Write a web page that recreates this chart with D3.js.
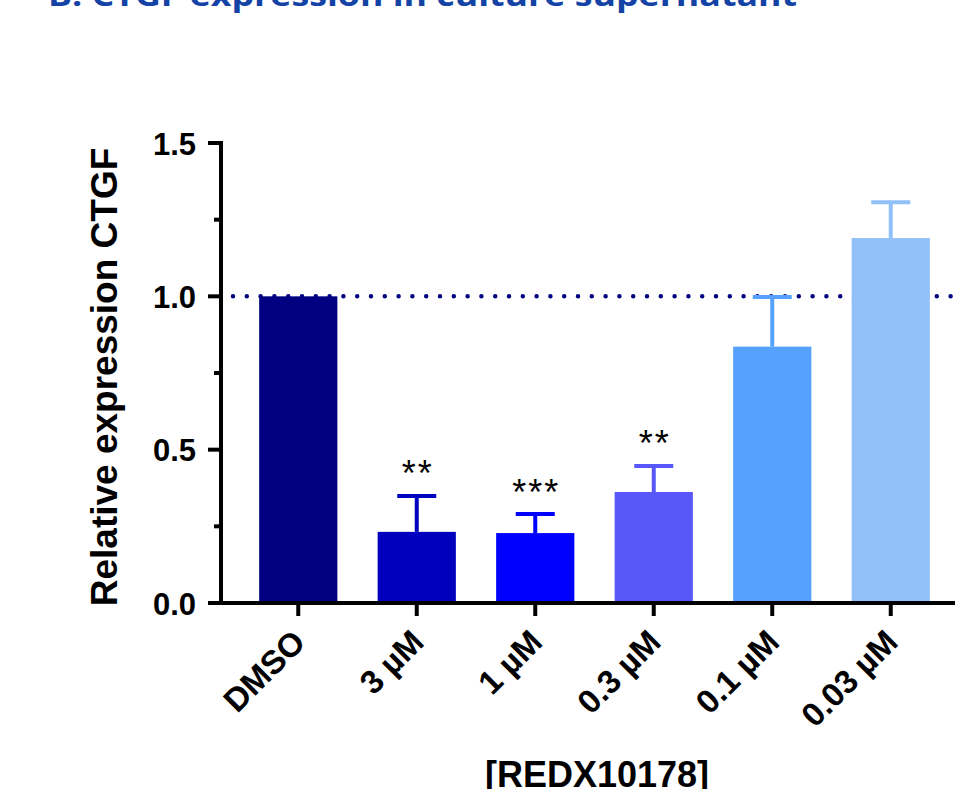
<!DOCTYPE html>
<html>
<head>
<meta charset="utf-8">
<script src="https://cdn.jsdelivr.net/npm/d3@7"></script>
<style>
  html, body { margin: 0; padding: 0; background: #fff; }
  svg { display: block; }
  text { font-family: "Liberation Sans", Arial, sans-serif; }
</style>
</head>
<body>
<svg id="chart" width="955" height="789"></svg>
<script>
// ---- data ----
const categories = ["DMSO", "3 µM", "1 µM", "0.3 µM", "0.1 µM", "0.03 µM"];
const means      = [1.00, 0.232, 0.228, 0.362, 0.836, 1.190];
const errors     = [0.00, 0.117, 0.062, 0.085, 0.162, 0.117];
const stars      = ["", "**", "***", "**", "", ""];
const colors     = ["#000080", "#0000BE", "#0000FF", "#5858F8", "#56A1FD", "#92C0F9"];
const yTicksMajor = [0, 0.5, 1.0, 1.5];
const yTicksMinor = [0.25, 0.75, 1.25];
const refValue = 1.0;
const titleText = "B. CTGF expression in culture supernatant";
const yTitle = "Relative expression CTGF";
const xTitle = "[REDX10178]";

// ---- layout ----
const svg = d3.select("#chart");
const axisX0 = 221, axisY0 = 603;
const y = d3.scaleLinear().domain([0, 1.5]).range([603, 143]);
const x = d3.scaleBand().domain(categories).range([239, 950]).paddingInner(0.34).paddingOuter(0.17);

// title (cut off at top, as in the reference)
svg.append("text")
  .attr("x", 48).attr("y", 6)
  .attr("textLength", 749).attr("lengthAdjust", "spacingAndGlyphs")
  .style("font-family", "'Open Sans', sans-serif")
  .style("font-weight", "bold").style("font-size", "30px")
  .attr("fill", "#1443A6")
  .text(titleText);

// reference dotted line (behind bars)
svg.append("line")
  .attr("x1", 233).attr("x2", 960)
  .attr("y1", y(refValue)).attr("y2", y(refValue))
  .attr("stroke", "#000080").attr("stroke-width", 4.5)
  .attr("stroke-linecap", "round")
  .attr("stroke-dasharray", "0 13.8");

// error bars (upper only)
const eg = svg.append("g");
categories.forEach((c, i) => {
  if (errors[i] <= 0) return;
  const cx = x(c) + x.bandwidth() / 2;
  eg.append("line")
    .attr("x1", cx).attr("x2", cx)
    .attr("y1", y(means[i])).attr("y2", y(means[i] + errors[i]))
    .attr("stroke", colors[i]).attr("stroke-width", 4);
  eg.append("line")
    .attr("x1", cx - 19.5).attr("x2", cx + 19.5)
    .attr("y1", y(means[i] + errors[i])).attr("y2", y(means[i] + errors[i]))
    .attr("stroke", colors[i]).attr("stroke-width", 4);
});

// bars
svg.append("g").selectAll("rect")
  .data(categories)
  .join("rect")
  .attr("x", d => x(d))
  .attr("width", x.bandwidth())
  .attr("y", (d, i) => y(means[i]))
  .attr("height", (d, i) => y(0) - y(means[i]))
  .attr("fill", (d, i) => colors[i]);

// significance stars
svg.append("g").selectAll("text")
  .data(categories)
  .join("text")
  .attr("x", d => x(d) + x.bandwidth() / 2 + 1)
  .attr("y", (d, i) => y(means[i] + errors[i]) - 30 + 0.57 * 36)
  .attr("text-anchor", "middle")
  .style("font-size", "36px")
  .style("letter-spacing", "2px")
  .attr("fill", "#000")
  .text((d, i) => stars[i]);

// y axis
const yAxis = svg.append("g");
yAxis.append("line")
  .attr("x1", axisX0).attr("x2", axisX0)
  .attr("y1", y(1.5) - 2).attr("y2", axisY0 + 2)
  .attr("stroke", "#000").attr("stroke-width", 4);
yAxis.selectAll(".maj").data(yTicksMajor).join("line")
  .attr("x1", axisX0 - 13).attr("x2", axisX0)
  .attr("y1", d => y(d)).attr("y2", d => y(d))
  .attr("stroke", "#000").attr("stroke-width", 4);
yAxis.selectAll(".min").data(yTicksMinor).join("line")
  .attr("x1", axisX0 - 7).attr("x2", axisX0)
  .attr("y1", d => y(d)).attr("y2", d => y(d))
  .attr("stroke", "#000").attr("stroke-width", 4);
yAxis.selectAll("text").data(yTicksMajor).join("text")
  .attr("x", 196).attr("y", d => y(d) + 11.5)
  .attr("text-anchor", "end")
  .style("font-weight", "bold").style("font-size", "31px")
  .text(d => d.toFixed(1));

// x axis
const xAxis = svg.append("g");
xAxis.append("line")
  .attr("x1", axisX0 - 13).attr("x2", 960)
  .attr("y1", axisY0).attr("y2", axisY0)
  .attr("stroke", "#000").attr("stroke-width", 4);
xAxis.selectAll(".tk").data(categories).join("line")
  .attr("x1", d => x(d) + x.bandwidth() / 2).attr("x2", d => x(d) + x.bandwidth() / 2)
  .attr("y1", axisY0).attr("y2", axisY0 + 13)
  .attr("stroke", "#000").attr("stroke-width", 4);
xAxis.selectAll("text").data(categories).join("text")
  .attr("transform", d => `translate(${x(d) + x.bandwidth() / 2 + 9},644) rotate(-45)`)
  .attr("text-anchor", "end")
  .style("font-weight", "bold").style("font-size", "33px")
  .text(d => d);

// axis titles
svg.append("text")
  .attr("transform", "translate(117,377) rotate(-90)")
  .attr("text-anchor", "middle")
  .style("font-weight", "bold").style("font-size", "37px")
  .text(yTitle);
svg.append("text")
  .attr("x", 597).attr("y", 787)
  .attr("text-anchor", "middle")
  .style("font-weight", "bold").style("font-size", "36px")
  .text(xTitle);
</script>
</body>
</html>
